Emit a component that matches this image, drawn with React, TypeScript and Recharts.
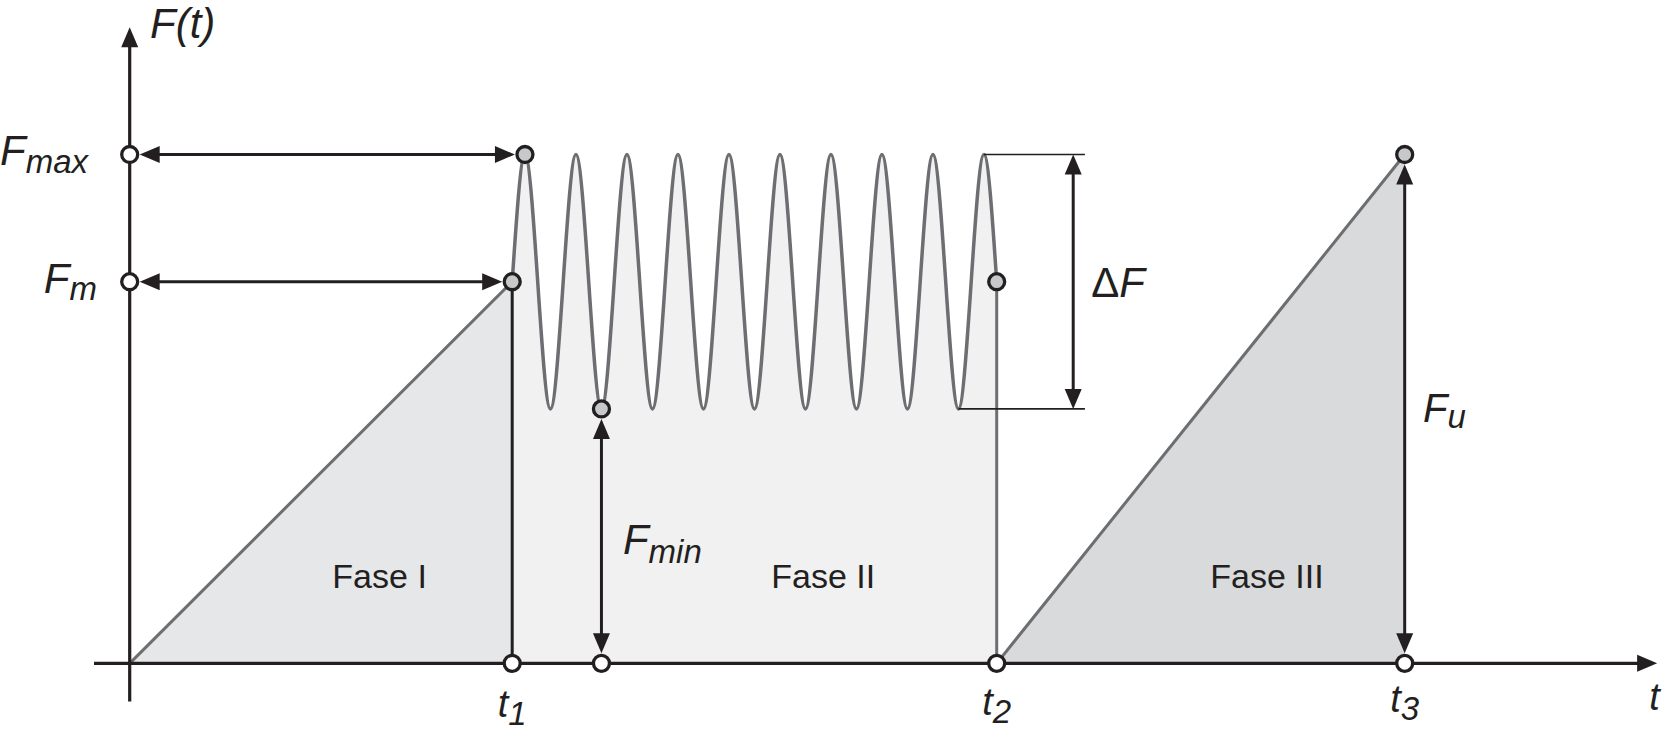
import React from 'react';
import { Area, ComposedChart, ReferenceDot, ReferenceLine, Scatter, XAxis, YAxis } from 'recharts';

// load levels (arbitrary units) and time marks (units of one load cycle)
const F_MIN = 2;
const F_M = 3;
const F_MAX = 4;
const T1 = 7.5;
const T2 = 17;
const T3 = 25;

// phase I: ramp from 0 up to the mean load
const rampT = [0, T1];
const rampF = [0, F_M];

// phase II: cyclic load, turning points
const cycleT = [7.5, 7.75, 8.25, 8.75, 9.25, 9.75, 10.25, 10.75, 11.25, 11.75, 12.25, 12.75, 13.25, 13.75, 14.25, 14.75, 15.25, 15.75, 16.25, 16.75, 17];
const cycleF = [3, 4, 2, 4, 2, 4, 2, 4, 2, 4, 2, 4, 2, 4, 2, 4, 2, 4, 2, 4, 3];

// phase III: ramp up to failure load
const failT = [T2, T3];
const failF = [0, F_MAX];

// marker circles
const openT = [0, 0, T1, 9.25, T2, T3];
const openF = [F_MAX, F_M, 0, 0, 0, 0];
const solidT = [7.75, T1, 9.25, T2, T3];
const solidF = [F_MAX, F_M, F_MIN, F_M, F_MAX];

const W = 1667;
const H = 733;
const INK = '#231f20';
const CURVE = '#6d6e71';
const FONT = '"Liberation Sans", Arial, Helvetica, sans-serif';

const zip = (ts: number[], fs: number[]) => ts.map((t, i) => ({ t, F: fs[i] }));

const HEAD_L = 20;
const HEAD_W = 8.5;

function arrow(o: { a?: boolean; b?: boolean; gapA?: number; gapB?: number; w?: number; color?: string }) {
  const { a = false, b = false, gapA = 0, gapB = 0, w = 3, color = INK } = o;
  return (p: any) => {
    const { x1, y1, x2, y2 } = p;
    const len = Math.hypot(x2 - x1, y2 - y1) || 1;
    const ux = (x2 - x1) / len;
    const uy = (y2 - y1) / len;
    const sx = x1 + ux * gapA;
    const sy = y1 + uy * gapA;
    const ex = x2 - ux * gapB;
    const ey = y2 - uy * gapB;
    const head = (tx: number, ty: number, dx: number, dy: number) => {
      const bx = tx - dx * HEAD_L;
      const by = ty - dy * HEAD_L;
      return `${tx},${ty} ${bx - dy * HEAD_W},${by + dx * HEAD_W} ${bx + dy * HEAD_W},${by - dx * HEAD_W}`;
    };
    const lx1 = a ? sx + ux * HEAD_L * 0.7 : sx;
    const ly1 = a ? sy + uy * HEAD_L * 0.7 : sy;
    const lx2 = b ? ex - ux * HEAD_L * 0.7 : ex;
    const ly2 = b ? ey - uy * HEAD_L * 0.7 : ey;
    return (
      <g>
        <line x1={lx1} y1={ly1} x2={lx2} y2={ly2} stroke={color} strokeWidth={w} />
        {a && <polygon points={head(sx, sy, -ux, -uy)} fill={color} />}
        {b && <polygon points={head(ex, ey, ux, uy)} fill={color} />}
      </g>
    );
  };
}

const circle = (fill: string) => (p: any) => (
  <circle cx={p.cx} cy={p.cy} r={8} fill={fill} stroke={INK} strokeWidth={3.3} />
);

function tag(key: string, t: number, F: number, draw: (cx: number, cy: number) => React.ReactNode) {
  return (
    <ReferenceDot key={key} x={t} y={F} r={1} ifOverflow="visible" shape={(p: any) => <g>{draw(p.cx, p.cy)}</g>} />
  );
}

function sym(x: number, y: number, main: string, sub: string, anchor: string, size: number, subSize: number, shift: number) {
  return (
    <text x={x} y={y} textAnchor={anchor} fontFamily={FONT} fontStyle="italic" fill={INK} fontSize={size}>
      <tspan>{main}</tspan>
      <tspan fontSize={subSize} dy={shift}>{sub}</tspan>
    </text>
  );
}

function phase(x: number, y: number, label: string) {
  return (
    <text x={x} y={y} textAnchor="middle" fontFamily={FONT} fill={INK} fontSize={34}>
      {label}
    </text>
  );
}

export default function App() {
  return (
    <div style={{ position: 'absolute', left: 0, top: 0, width: W, height: H, background: '#fff' }}>
      <ComposedChart width={W} height={H} margin={{ top: 14.58, right: 7.3, bottom: 6.08, left: 27.7 }}>
        <XAxis type="number" dataKey="t" domain={[-2, 30]} hide allowDataOverflow />
        <YAxis type="number" dataKey="F" domain={[-0.5, 5.1]} hide allowDataOverflow />

        <Area data={zip(rampT, rampF)} dataKey="F" type="linear" baseValue={0} fill="#e6e7e8" fillOpacity={1}
          stroke={CURVE} strokeWidth={3} isAnimationActive={false} />
        <Area data={zip(cycleT, cycleF)} dataKey="F" type="monotone" baseValue={0} fill="#f1f1f2" fillOpacity={1}
          stroke={CURVE} strokeWidth={3.5} isAnimationActive={false} />
        <Area data={zip(failT, failF)} dataKey="F" type="linear" baseValue={0} fill="#d9dadc" fillOpacity={1}
          stroke={CURVE} strokeWidth={3} isAnimationActive={false} />

        <ReferenceLine segment={[{ x: T1, y: 0 }, { x: T1, y: F_M }]} ifOverflow="visible" shape={arrow({ w: 3 })} />
        <ReferenceLine segment={[{ x: T2, y: 0 }, { x: T2, y: F_M }]} ifOverflow="visible" shape={arrow({ w: 3, color: CURVE })} />
        <ReferenceLine segment={[{ x: 16.75, y: F_MAX }, { x: 18.73, y: F_MAX }]} ifOverflow="visible" shape={arrow({ w: 1.6 })} />
        <ReferenceLine segment={[{ x: 16.25, y: F_MIN }, { x: 18.73, y: F_MIN }]} ifOverflow="visible" shape={arrow({ w: 1.6 })} />

        <ReferenceLine segment={[{ x: -0.7, y: 0 }, { x: 29.95, y: 0 }]} ifOverflow="visible" shape={arrow({ b: true, w: 3.2 })} />
        <ReferenceLine segment={[{ x: 0, y: -0.3 }, { x: 0, y: 5.0 }]} ifOverflow="visible" shape={arrow({ b: true, w: 3.2 })} />

        <ReferenceLine segment={[{ x: 0, y: F_MAX }, { x: 7.75, y: F_MAX }]} ifOverflow="visible" shape={arrow({ a: true, b: true, gapA: 10, gapB: 10 })} />
        <ReferenceLine segment={[{ x: 0, y: F_M }, { x: T1, y: F_M }]} ifOverflow="visible" shape={arrow({ a: true, b: true, gapA: 10, gapB: 10 })} />
        <ReferenceLine segment={[{ x: 9.25, y: 0 }, { x: 9.25, y: F_MIN }]} ifOverflow="visible" shape={arrow({ a: true, b: true, gapA: 10, gapB: 10 })} />
        <ReferenceLine segment={[{ x: 18.5, y: F_MAX }, { x: 18.5, y: F_MIN }]} ifOverflow="visible" shape={arrow({ a: true, b: true })} />
        <ReferenceLine segment={[{ x: T3, y: 0 }, { x: T3, y: F_MAX }]} ifOverflow="visible" shape={arrow({ a: true, b: true, gapA: 10, gapB: 10 })} />

        <Scatter data={zip(openT, openF)} dataKey="F" shape={circle('#ffffff')} isAnimationActive={false} />
        <Scatter data={zip(solidT, solidF)} dataKey="F" shape={circle('#c7c8ca')} isAnimationActive={false} />

        {tag('ft', 0, 5.0, (cx, cy) => (
          <text x={cx + 20.3} y={cy + 10.7} fontFamily={FONT} fontStyle="italic" fontSize={42} fill={INK}>F(t)</text>
        ))}
        {tag('fmax', 0, F_MAX, (cx, cy) => sym(cx - 41.7, cy + 10.5, 'F', 'max', 'end', 42, 33, 8))}
        {tag('fm', 0, F_M, (cx, cy) => sym(cx - 32.7, cy + 11.3, 'F', 'm', 'end', 42, 33, 7))}
        {tag('fmin', 9.25, 1, (cx, cy) => sym(cx + 21.5, cy + 18, 'F', 'min', 'start', 42, 33, 9))}
        {tag('fu', T3, 2, (cx, cy) => sym(cx + 18.3, cy + 13, 'F', 'u', 'start', 40, 33, 6))}
        {tag('df', 18.5, F_M, (cx, cy) => (
          <text x={cx + 18} y={cy + 15} fontFamily={FONT} fontSize={42} fill={INK}>
            <tspan>Δ</tspan>
            <tspan fontStyle="italic">F</tspan>
          </text>
        ))}
        {tag('p1', 4.9, 0.6, (cx, cy) => phase(cx, cy + 1, 'Fase I'))}
        {tag('p2', 13.6, 0.6, (cx, cy) => phase(cx, cy + 1, 'Fase II'))}
        {tag('p3', 22.3, 0.6, (cx, cy) => phase(cx, cy + 1, 'Fase III'))}
        {tag('t1', T1, 0, (cx, cy) => sym(cx, cy + 54, 't', '1', 'middle', 38, 33, 8))}
        {tag('t2', T2, 0, (cx, cy) => sym(cx, cy + 52, 't', '2', 'middle', 38, 33, 8))}
        {tag('t3', T3, 0, (cx, cy) => sym(cx, cy + 49, 't', '3', 'middle', 38, 33, 8))}
        {tag('t', 29.95, 0, (cx, cy) => (
          <text x={cx - 2.6} y={cy + 46.7} textAnchor="middle" fontFamily={FONT} fontStyle="italic" fontSize={38} fill={INK}>t</text>
        ))}
      </ComposedChart>
    </div>
  );
}
